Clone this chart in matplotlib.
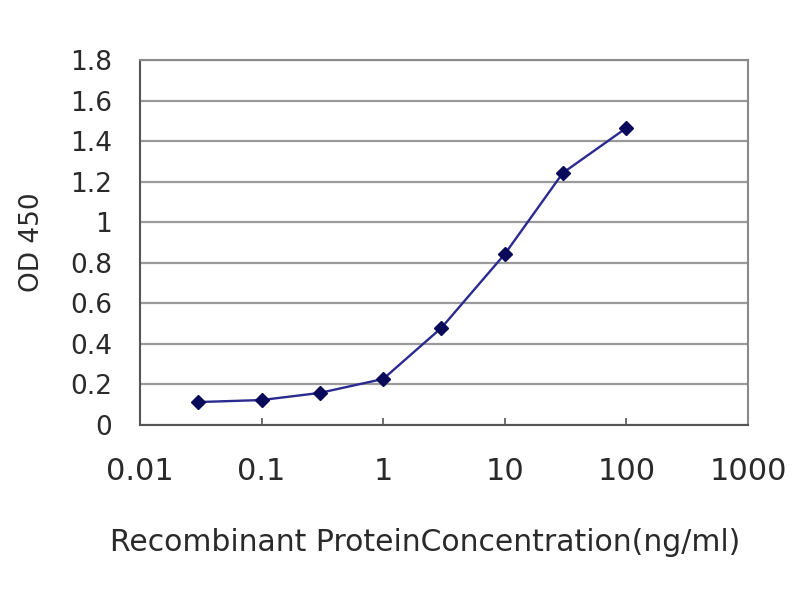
import matplotlib
matplotlib.use('Agg')
import numpy as np
from matplotlib import pyplot as plt
from matplotlib.ticker import FixedLocator, FixedFormatter, NullLocator

# ELISA standard curve
conc = [0.03, 0.1, 0.3, 1, 3, 10, 30, 100]
od450 = [0.113, 0.123, 0.158, 0.227, 0.478, 0.843, 1.243, 1.465]

x_ticks = [0.01, 0.1, 1, 10, 100, 1000]
x_tick_labels = ['0.01', '0.1', '1', '10', '100', '1000']
y_ticks = [0, 0.2, 0.4, 0.6, 0.8, 1, 1.2, 1.4, 1.6, 1.8]
y_tick_labels = ['0', '0.2', '0.4', '0.6', '0.8', '1', '1.2', '1.4', '1.6', '1.8']

text_col = '#2a2a2a'

fig = plt.figure(figsize=(8, 6), dpi=100)
ax = fig.add_axes([0.175, 0.2917, 0.76, 0.6083])

ax.plot(conc, od450, color='#2a2a90', lw=1.7, marker='D', markersize=7.5,
        markerfacecolor='#0a0a5a', markeredgecolor='#0a0a5a', zorder=3)

ax.set_xscale('log')
ax.set_xlim(0.01, 1000)
ax.set_ylim(0, 1.8)

ax.xaxis.set_major_locator(FixedLocator(x_ticks))
ax.xaxis.set_major_formatter(FixedFormatter(x_tick_labels))
ax.xaxis.set_minor_locator(NullLocator())
ax.yaxis.set_major_locator(FixedLocator(y_ticks))
ax.yaxis.set_major_formatter(FixedFormatter(y_tick_labels))

ax.grid(axis='y', color='#9a9a9a', lw=1.6)
ax.set_axisbelow(True)

ax.tick_params(axis='x', direction='in', length=5, width=1.2, color='#555555',
               pad=23, labelsize=22, labelcolor=text_col)
ax.tick_params(axis='y', direction='in', length=0, pad=20,
               labelsize=19, labelcolor=text_col)

for side in ['left', 'bottom']:
    ax.spines[side].set_color('#555555')
    ax.spines[side].set_linewidth(1.5)
for side in ['top', 'right']:
    ax.spines[side].set_color('#8a8a8a')
    ax.spines[side].set_linewidth(1.5)

ax.set_xlabel('Recombinant ProteinConcentration(ng/ml)', fontsize=21.5,
              color=text_col)
ax.xaxis.set_label_coords(0.469, -0.283)
ax.set_ylabel('OD 450', fontsize=19, color=text_col, labelpad=18)

fig.savefig('out.png', dpi=100)
